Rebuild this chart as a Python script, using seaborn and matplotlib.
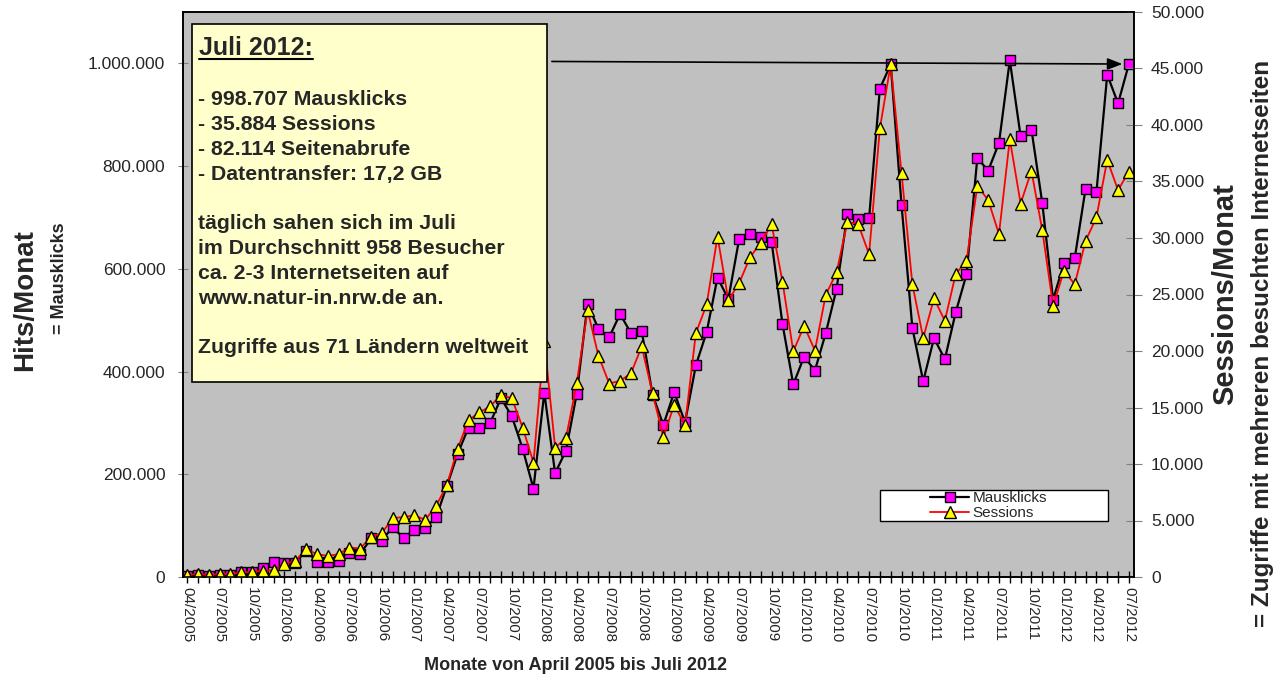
import numpy as np
import pandas as pd
import matplotlib
matplotlib.use("Agg")
import matplotlib.pyplot as plt
from matplotlib.patches import Rectangle
from matplotlib.lines import Line2D
import seaborn as sns

# Monthly values, April 2005 .. July 2012
months = pd.date_range("2005-04-01", periods=88, freq="MS").strftime("%m/%Y").tolist()

mausklicks = [
    2000, 3000, 2500, 3000, 3000, 10000, 10000, 17000, 30000, 28000,
    28000, 51000, 30000, 30000, 32000, 46000, 45000, 75000, 71000, 98000,
    75000, 92000, 96000, 116000, 177000, 240000, 291000, 291000, 300000, 348000,
    313000, 250000, 172000, 359000, 202000, 246000, 357000, 532000, 483000, 467000,
    512000, 475000, 479000, 355000, 296000, 360000, 301000, 412000, 477000, 583000,
    541000, 658000, 668000, 661000, 652000, 493000, 375000, 429000, 402000, 475000,
    561000, 706000, 697000, 698000, 951000, 998000, 724000, 485000, 381000, 465000,
    424000, 515000, 589000, 816000, 791000, 845000, 1006000, 858000, 871000, 728000,
    540000, 611000, 621000, 756000, 749000, 978000, 922000, 998707,
]

sessions = [
    200, 250, 200, 250, 250, 400, 450, 540, 600, 1130,
    1430, 2460, 2020, 1870, 2020, 2610, 2520, 3580, 3880, 5230,
    5290, 5470, 5050, 6290, 8120, 11370, 13880, 14560, 15100, 16100,
    15820, 13230, 10130, 20900, 11460, 12280, 17150, 23610, 19570, 17120,
    17360, 18010, 20400, 16240, 12400, 15230, 13430, 21580, 24120, 30130,
    24500, 26000, 28280, 29600, 31200, 26150, 19960, 22220, 20040, 24970,
    26950, 31430, 31220, 28570, 39720, 45380, 35740, 25910, 21160, 24650,
    22670, 26800, 27980, 34590, 33370, 30340, 38745, 33050, 35940, 30690,
    23990, 27090, 25910, 29740, 31820, 36910, 34230, 35884,
]

hits_ticks = [0, 200000, 400000, 600000, 800000, 1000000]
sess_ticks = [0, 5000, 10000, 15000, 20000, 25000, 30000, 35000, 40000, 45000, 50000]

info_title = "Juli 2012:"
info_lines = [
    "- 998.707 Mausklicks",
    "- 35.884 Sessions",
    "- 82.114 Seitenabrufe",
    "- Datentransfer: 17,2 GB",
    "",
    "täglich sahen sich im Juli",
    "im Durchschnitt 958 Besucher",
    "ca. 2-3 Internetseiten auf",
    "www.natur-in.nrw.de an.",
    "",
    "Zugriffe aus 71 Ländern weltweit",
]


def de_fmt(v):
    return f"{v:,.0f}".replace(",", ".")


df = pd.DataFrame({"idx": np.arange(len(months)), "hits": mausklicks, "sess": sessions})

sns.set_style("white")
plt.rcParams["font.family"] = ["Liberation Sans", "DejaVu Sans"]

W, H = 1275, 678
fig = plt.figure(figsize=(W / 100, H / 100), dpi=100)
ax = fig.add_axes([182.7 / W, (H - 577) / H, 951.6 / W, 565 / H])
ax.set_facecolor("#C0C0C0")

sns.lineplot(data=df, x="idx", y="hits", ax=ax, color="black", lw=1.6,
             marker="s", markersize=7.5, markerfacecolor="#FF00FF",
             markeredgecolor="black", markeredgewidth=1.0, legend=False)

ax2 = ax.twinx()
sns.lineplot(data=df, x="idx", y="sess", ax=ax2, color="#FF0000", lw=1.3,
             marker="^", markersize=8, markerfacecolor="#FFFF00",
             markeredgecolor="black", markeredgewidth=1.0, legend=False)

ax.set_xlim(-0.4, len(months) - 0.5)
ax.set_ylim(0, 1100000)
ax2.set_ylim(0, 50000)

ax.set_yticks(hits_ticks)
ax.set_yticklabels([de_fmt(v) for v in hits_ticks], fontsize=12.5)
ax2.set_yticks(sess_ticks)
ax2.set_yticklabels([de_fmt(v) for v in sess_ticks], fontsize=12.5)

ax.set_xticks(np.arange(0, len(months), 3))
ax.set_xticklabels(months[::3], rotation=-90, fontsize=11)
ax.set_xticks(np.arange(len(months)), minor=True)
ax.tick_params(axis="x", which="both", direction="inout", length=9, width=1,
               color="black", pad=3, bottom=True)
ax.tick_params(axis="y", direction="inout", length=7, color="#808080", pad=9, left=True)
ax2.tick_params(axis="y", direction="inout", length=12, color="#808080", pad=6, right=True)

ax.set_xlabel("")
ax.set_ylabel("")
ax2.set_ylabel("")
for a in (ax, ax2):
    for s in a.spines.values():
        s.set_color("black")
        s.set_linewidth(1.2)

# arrow pointing at the latest month
last = len(months) - 1
ax.annotate("", xy=(last - 0.6, mausklicks[-1]), xytext=(33.7, mausklicks[-1] + 5000),
            arrowprops=dict(arrowstyle="-|>,head_length=0.9,head_width=0.35",
                            color="black", lw=1.2, shrinkA=0, shrinkB=0))

# info box
ax2.add_patch(Rectangle((0.0098, 0.345), 0.373, 0.634, transform=ax2.transAxes,
                        facecolor="#FFFFCC", edgecolor="black", lw=1.2, zorder=10))
t_title = ax2.text(0.017, 0.957, info_title, transform=ax2.transAxes, fontsize=18,
                   fontweight="bold", va="top", ha="left", zorder=11)
ax2.text(0.016, 0.862, "\n".join(info_lines), transform=ax2.transAxes, fontsize=15.3,
         fontweight="bold", va="top", ha="left", linespacing=1.39, zorder=11)

# legend box
ax2.add_patch(Rectangle((0.733, 0.099), 0.239, 0.055, transform=ax2.transAxes,
                        facecolor="white", edgecolor="black", lw=1, zorder=10))
handles = [
    Line2D([], [], color="black", lw=1.6, marker="s", markersize=7.5,
           markerfacecolor="#FF00FF", markeredgecolor="black"),
    Line2D([], [], color="#FF0000", lw=1.3, marker="^", markersize=8,
           markerfacecolor="#FFFF00", markeredgecolor="black"),
]
leg = ax2.legend(handles, ["Mausklicks", "Sessions"], loc="center left",
                 bbox_to_anchor=(0.785, 0.1265), frameon=False, fontsize=11,
                 handlelength=2.6, handletextpad=0.2, labelspacing=0.05,
                 borderpad=0, borderaxespad=0)
leg.set_zorder(12)

# axis titles
fig.text(575 / W, 1 - 665 / H, "Monate von April 2005 bis Juli 2012", ha="center",
         va="center", fontsize=13, fontweight="bold")
fig.text(25 / W, 1 - 300 / H, "Hits/Monat", rotation=90, ha="center", va="center",
         fontsize=20, fontweight="bold")
fig.text(60 / W, 1 - 278 / H, "= Mausklicks", rotation=90, ha="center", va="center",
         fontsize=13, fontweight="bold")
fig.text(1225 / W, 1 - 294 / H, "Sessions/Monat", rotation=90, ha="center", va="center",
         fontsize=21, fontweight="bold")
fig.text(1262 / W, 1 - 343 / H, "= Zugriffe mit mehreren besuchten Internetseiten",
         rotation=90, ha="center", va="center", fontsize=17.5, fontweight="bold")

# underline for box title
fig.canvas.draw()
bb = t_title.get_window_extent(renderer=fig.canvas.get_renderer())
fig.add_artist(Line2D([bb.x0, bb.x1], [bb.y0 + 1, bb.y0 + 1], color="black", lw=1.5,
                      transform=None, zorder=20))

fig.savefig("out.png", dpi=100)
